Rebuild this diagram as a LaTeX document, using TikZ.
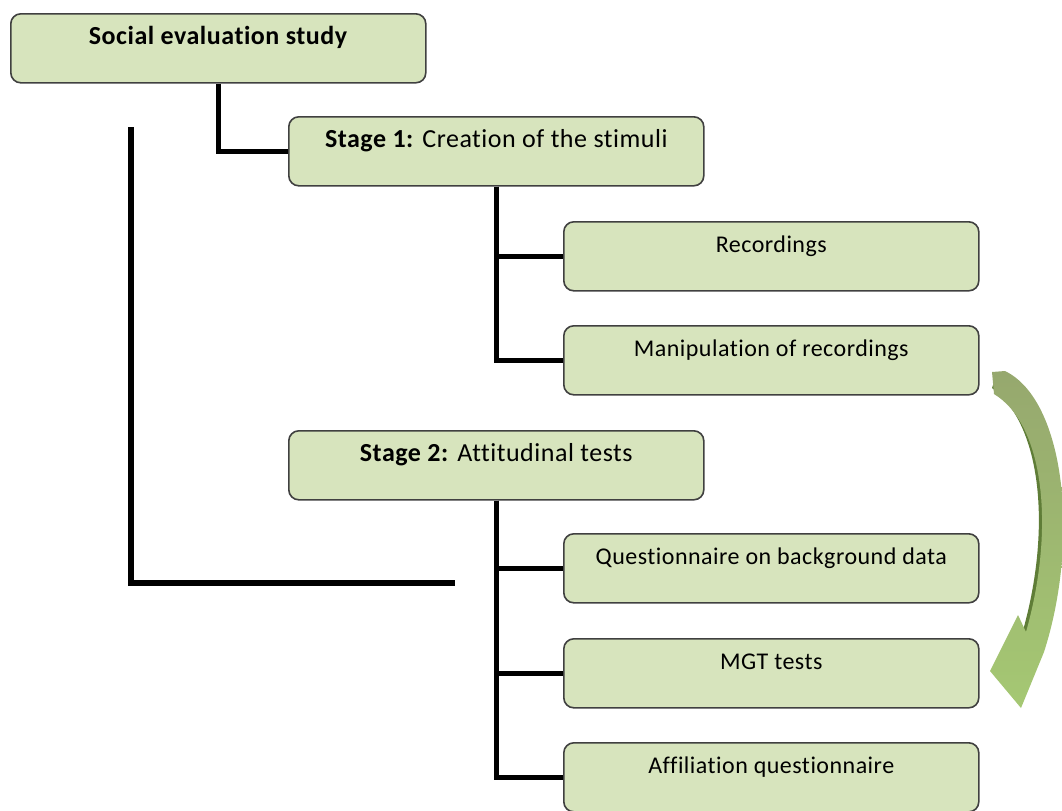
\documentclass[tikz,border=0pt]{standalone}
\usepackage{fontspec}
\setmainfont[Ligatures=NoCommon, LetterSpace=2]{Carlito}
\begin{document}
\begin{tikzpicture}[x=0.5pt,y=-0.5pt,
  box/.style={draw=black!75, line width=0.8pt, fill=boxgreen, rounded corners=5pt,
    anchor=north west, minimum width=207.5pt, inner ysep=0pt,
    text height=15.5pt, text depth=19pt, font=\fontsize{12}{14}\selectfont},
  headbox/.style={box, font=\fontsize{13}{15}\selectfont},
  link/.style={line width=2.6pt, black}]
\definecolor{boxgreen}{HTML}{D7E4BD}
\definecolor{arrdark}{RGB}{150,168,110}
\definecolor{arrlight}{RGB}{165,200,115}
\definecolor{arrshadow}{RGB}{95,125,55}
\useasboundingbox (0,0) rectangle (1062,810);

% boxes
\node[headbox] (soc) at (10,13)  {\textbf{Social evaluation study}};
\node[headbox] (s1)  at (288,116) {\textbf{Stage 1:} Creation of the stimuli};
\node[box] (rec) at (563,221) {Recordings};
\node[box] (man) at (563,325) {Manipulation of recordings};
\node[headbox] (s2)  at (288,430) {\textbf{Stage 2:} Attitudinal tests};
\node[box] (qbd) at (563,533) {Questionnaire on background data};
\node[box] (mgt) at (563,638) {MGT tests};
\node[box] (aff) at (563,742) {Affiliation questionnaire};

% tree connectors
\draw[link] (soc.south) |- (s1.west);
\draw[link] (s1.south) |- (rec.west);
\draw[link] (s1.south) |- (man.west);
\draw[link] (s2.south) |- (qbd.west);
\draw[link] (s2.south) |- (mgt.west);
\draw[link] (s2.south) |- (aff.west);

% open bracket on the left
\coordinate (lt) at (131,127);
\coordinate (lb) at (131,583);
\coordinate (lr) at (455,583);
\draw[link] (lt) -- (lb) -- (lr);

% curved block arrow
\fill[arrshadow] (994,382) .. controls (1049,420) and (1062,530) .. (1029,634)
  -- (1022,634) .. controls (1052,530) and (1042,425) .. (992,388) -- cycle;
\shade[top color=arrdark, bottom color=arrlight]
  (992,372) -- (1005,371)
  .. controls (1065,400) and (1080,540) .. (1044,652)
  -- (1021,708) -- (990,671) -- (1018,615) -- (1026,632)
  .. controls (1055,530) and (1045,425) .. (994,394) -- cycle;
\end{tikzpicture}
\end{document}
